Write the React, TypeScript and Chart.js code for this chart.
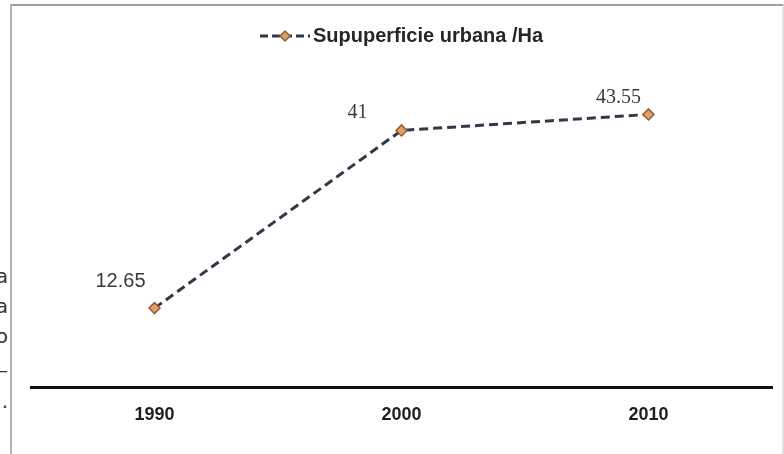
import React, { useEffect, useRef } from "react";
import { Chart, registerables } from "chart.js";

Chart.register(...registerables);

const categories = ["1990", "2000", "2010"];
const seriesName = "Supuperficie urbana /Ha";
const superficie = [12.65, 41, 43.55];
const valueLabels = ["12.65", "41", "43.55"];
const sideText = ["a", "a", "o", "—", "."];

// styling for value labels (offset from the point, font family)
const labelOffsets = [
  [-34, -27],
  [-44, -18],
  [-30, -17],
];
const labelFamilies = [
  "'Liberation Sans', Arial, sans-serif",
  "'Liberation Serif', 'Times New Roman', serif",
  "'Liberation Serif', 'Times New Roman', serif",
];

const LINE_COLOR = "#2f3948";
const POINT_FILL = "#dc9f6e";
const POINT_BORDER = "#9a5e33";

function drawDiamond(ctx: CanvasRenderingContext2D, x: number, y: number, r: number) {
  ctx.save();
  ctx.beginPath();
  ctx.moveTo(x, y - r);
  ctx.lineTo(x + r, y);
  ctx.lineTo(x, y + r);
  ctx.lineTo(x - r, y);
  ctx.closePath();
  ctx.fillStyle = POINT_FILL;
  ctx.fill();
  ctx.lineWidth = 1.5;
  ctx.strokeStyle = POINT_BORDER;
  ctx.stroke();
  ctx.restore();
}

const legendPlugin = {
  id: "customLegend",
  afterDraw(chart: any) {
    const ctx = chart.ctx as CanvasRenderingContext2D;
    const y = 36;
    ctx.save();
    ctx.strokeStyle = LINE_COLOR;
    ctx.lineWidth = 3;
    ctx.setLineDash([8, 4]);
    ctx.beginPath();
    ctx.moveTo(260, y);
    ctx.lineTo(310, y);
    ctx.stroke();
    ctx.setLineDash([]);
    drawDiamond(ctx, 285, y, 5);
    ctx.fillStyle = "#262626";
    ctx.font = "bold 20px 'Liberation Sans', Arial, sans-serif";
    ctx.textAlign = "left";
    ctx.textBaseline = "middle";
    ctx.fillText(seriesName, 313, y);
    ctx.restore();
  },
};

const valueLabelPlugin = {
  id: "valueLabels",
  afterDatasetsDraw(chart: any) {
    const ctx = chart.ctx as CanvasRenderingContext2D;
    const meta = chart.getDatasetMeta(0);
    ctx.save();
    ctx.fillStyle = "#3a3a3a";
    ctx.textAlign = "center";
    ctx.textBaseline = "middle";
    meta.data.forEach((pt: any, i: number) => {
      const [dx, dy] = labelOffsets[i];
      ctx.font = `20px ${labelFamilies[i]}`;
      ctx.fillText(valueLabels[i], pt.x + dx, pt.y + dy);
    });
    ctx.restore();
  },
};

export default function App() {
  const canvasRef = useRef<HTMLCanvasElement | null>(null);

  useEffect(() => {
    if (!canvasRef.current) return;
    const chart = new Chart(canvasRef.current, {
      type: "line",
      data: {
        labels: categories,
        datasets: [
          {
            label: seriesName,
            data: superficie,
            borderColor: LINE_COLOR,
            borderWidth: 3,
            borderDash: [9, 5],
            tension: 0,
            fill: false,
            pointStyle: "rectRot",
            pointRadius: 5.5,
            pointBackgroundColor: POINT_FILL,
            pointBorderColor: POINT_BORDER,
            pointBorderWidth: 1.5,
          },
        ],
      },
      options: {
        animation: false,
        responsive: false,
        devicePixelRatio: 1,
        layout: { padding: { left: 31, right: 12, top: 74, bottom: 11 } },
        plugins: {
          legend: { display: false },
          tooltip: { enabled: false },
          title: { display: false },
        },
        scales: {
          x: {
            type: "category",
            offset: true,
            grid: { display: false, drawTicks: false },
            border: { display: true, color: "#111", width: 3 },
            ticks: {
              color: "#1e1e1e",
              padding: 17,
              font: { family: "'Liberation Sans', Arial, sans-serif", size: 18, weight: "bold" },
            },
          },
          y: {
            display: false,
            min: 0,
            max: 50,
          },
        },
      },
      plugins: [legendPlugin, valueLabelPlugin],
    });
    return () => chart.destroy();
  }, []);

  return (
    <div
      style={{
        position: "fixed",
        left: 0,
        top: 0,
        width: 784,
        height: 454,
        overflow: "hidden",
        background: "#fff",
      }}
    >
      <div
        style={{
          position: "absolute",
          left: 10,
          top: 4,
          width: 770,
          height: 470,
          borderTop: "2px solid #9e9e9e",
          borderLeft: "2px solid #b4b4b4",
          borderRight: "2px solid #e2e2e2",
        }}
      />
      {sideText.map((t, i) => (
        <div
          key={i}
          style={{
            position: "absolute",
            left: -200,
            width: 208,
            top: [263, 293, 323, 357, 388][i],
            textAlign: "right",
            fontFamily: "'DejaVu Sans', sans-serif",
            fontSize: 20,
            lineHeight: "26px",
            color: "#333",
          }}
        >
          {t}
        </div>
      ))}
      <canvas
        ref={canvasRef}
        width={784}
        height={454}
        style={{ position: "absolute", left: 0, top: 0, width: 784, height: 454 }}
      />
    </div>
  );
}
